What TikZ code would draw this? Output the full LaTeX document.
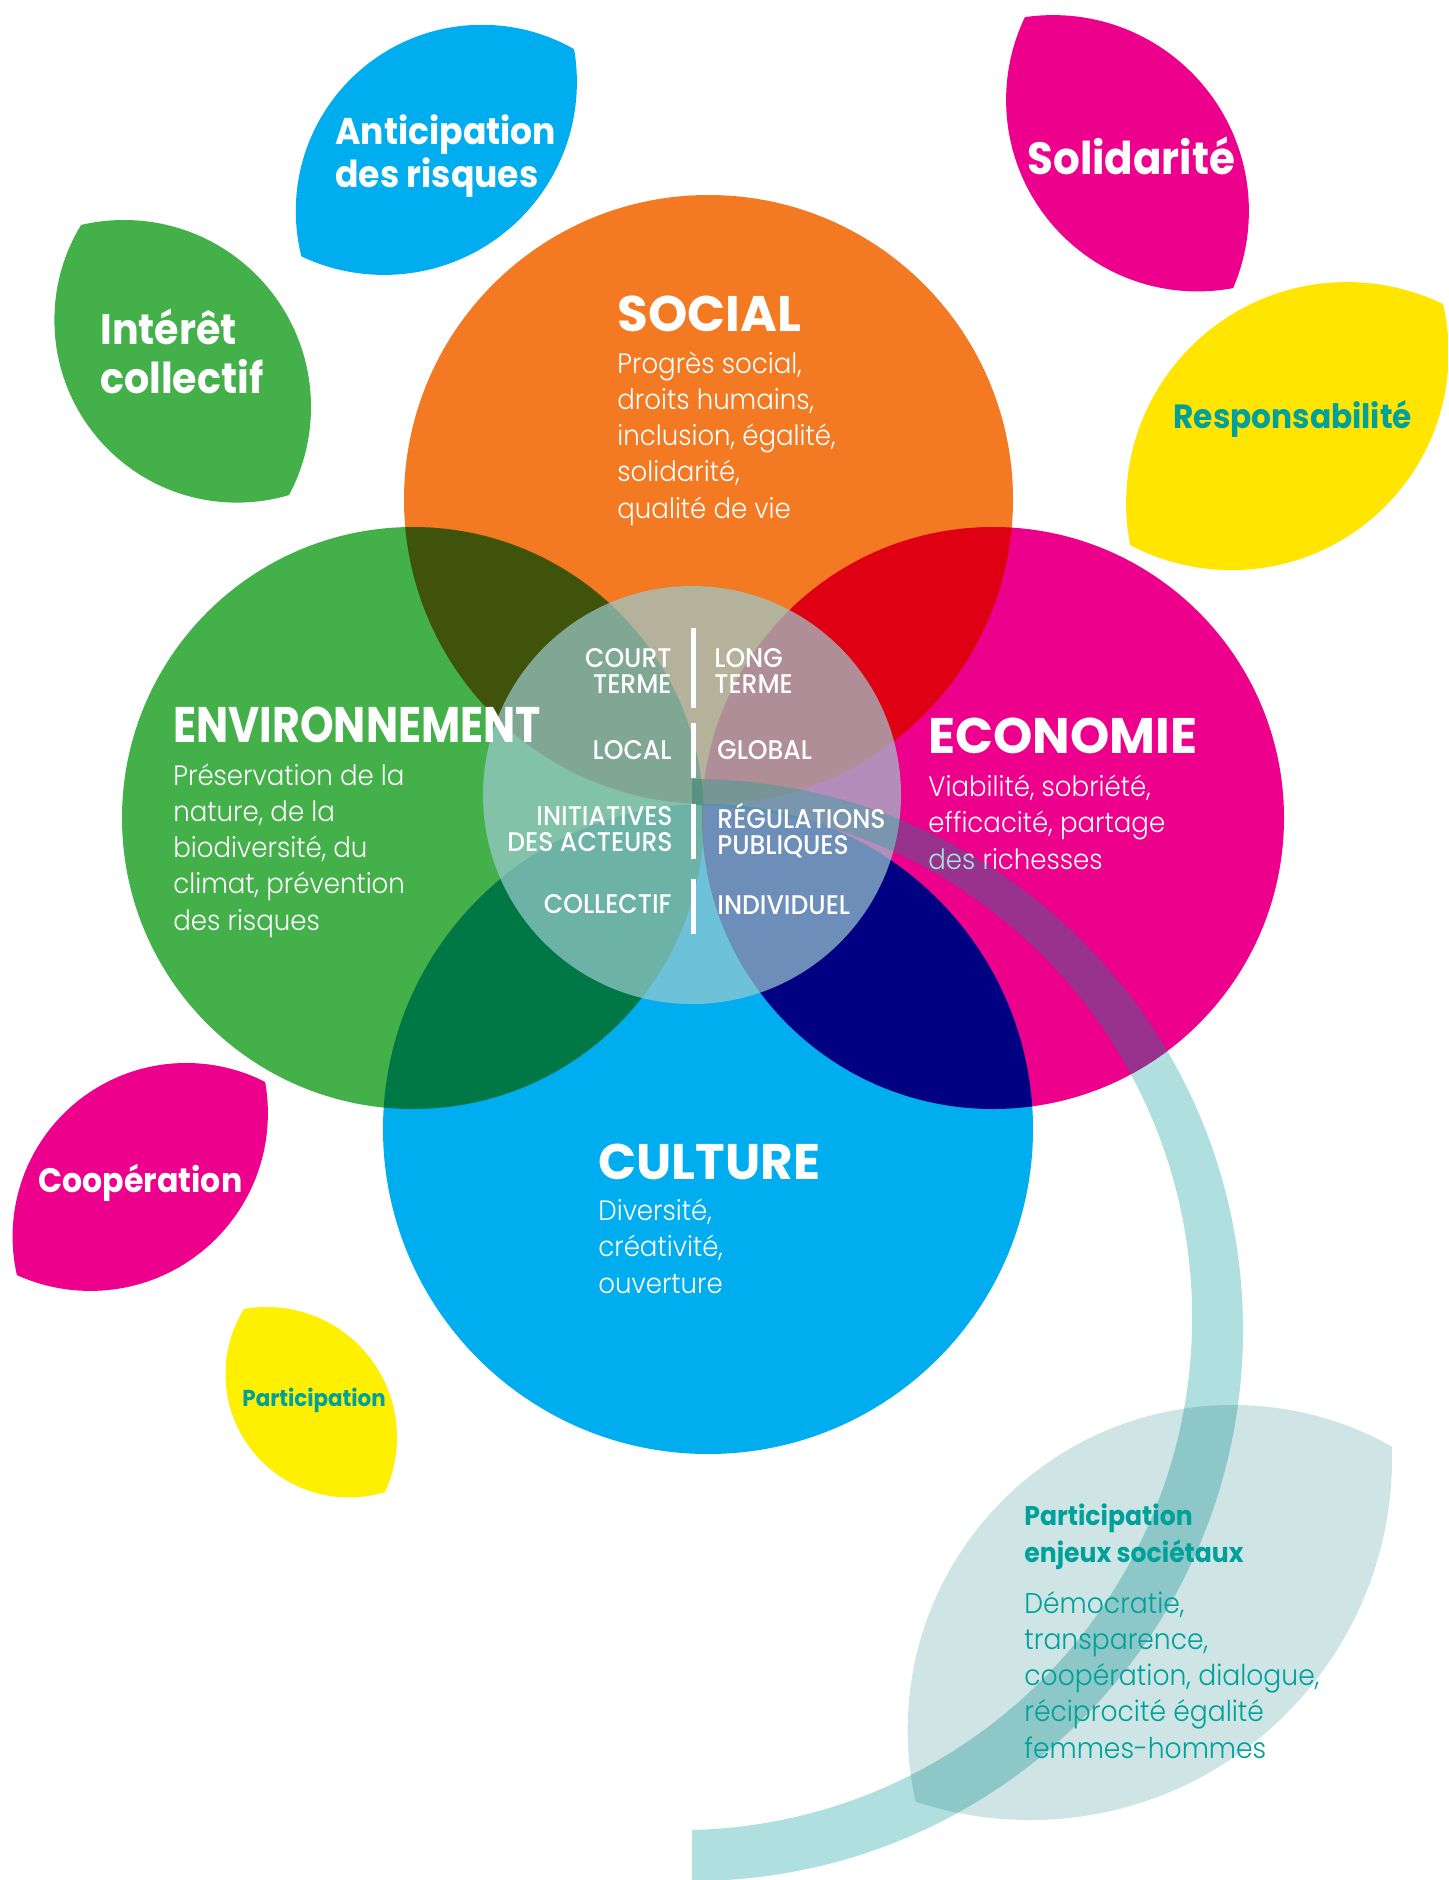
\documentclass[tikz,border=0pt]{standalone}
\usepackage{fontspec}
\setmainfont{Poppins}
\newfontfamily\headfont{Poppins}
\newfontfamily\headnarrow{Poppins}[FakeStretch=0.855]
\newfontfamily\leaffont{Poppins}[FakeStretch=0.93]
\IfFontExistsTF{Poppins Light}
  {\newfontfamily\bodyfont{Poppins Light}[FakeStretch=0.93]}
  {\newfontfamily\bodyfont{Poppins}[FakeStretch=0.93]}
\IfFontExistsTF{Poppins Medium}
  {\newfontfamily\labelfont{Poppins Medium}[FakeStretch=0.93]}
  {\newfontfamily\labelfont{Poppins}[FakeStretch=0.93]}

\definecolor{socialorange}{RGB}{243,121,35}
\definecolor{envgreen}{RGB}{67,176,74}
\definecolor{ecomagenta}{RGB}{236,0,140}
\definecolor{cultureblue}{RGB}{0,174,239}
\definecolor{leafyellow}{RGB}{255,229,0}
\definecolor{lemon}{RGB}{255,239,0}
\definecolor{tealtext}{RGB}{0,161,154}
\definecolor{hubgrey}{RGB}{156,203,208}
\definecolor{stemteal}{RGB}{176,223,223}
\definecolor{stemlift}{RGB}{120,250,220}
\definecolor{paleleaf}{RGB}{207,228,228}

% lens shaped leaf = two overlapping discs
\newcommand{\leafshape}[5]{%
  \begin{scope}
    \clip #2 circle[radius=#3];
    \fill[#1] #4 circle[radius=#5];
  \end{scope}}
% outline of the stem band
\newcommand{\stempath}{(692,779) arc[start angle=90, end angle=-90, radius=275.5pt]
    -- (692,1830) arc[start angle=-88.6, end angle=88.6, radius=256.35pt] -- cycle}

\begin{document}
\begin{tikzpicture}[x=0.5pt, y=-0.5pt,
    circletitle/.style={text=white, font=\headfont\bfseries\fontsize{25}{30}\selectfont,
      inner sep=0pt, anchor=base west},
    circletext/.style={text=white, font=\bodyfont\fontsize{14}{18.1}\selectfont,
      inner sep=0pt, anchor=base west, align=left},
    leaftext/.style 2 args={font=\leaffont\bfseries\fontsize{#1}{#2}\selectfont,
      inner sep=0pt, anchor=base west, align=left},
    hubleft/.style={text=white, font=\labelfont\fontsize{13.5}{13}\selectfont,
      inner sep=0pt, anchor=base east, align=right},
    hubright/.style={text=white, font=\labelfont\fontsize{13.5}{13}\selectfont,
      inner sep=0pt, anchor=base west, align=left}]
  \useasboundingbox (0,0) rectangle (1449,1880);
  \clip (0,0) rectangle (1449,1880);
  \fill[white] (0,0) rectangle (1449,1880);

  % leaves
  \leafshape{cultureblue}{(384,82)}{96.45pt}{(482,211)}{93.1pt}
  \leafshape{envgreen}{(124,407)}{93.5pt}{(237,320)}{91.3pt}
  \leafshape{ecomagenta}{(1053,211)}{97.95pt}{(1197.5,100)}{95.7pt}
  \leafshape{leafyellow}{(1231.5,353)}{108.55pt}{(1347,503)}{110.45pt}
  \leafshape{ecomagenta}{(90.3,1113.3)}{88.8pt}{(186.2,1236.6)}{86.8pt}
  \leafshape{lemon}{(266.7,1437.3)}{65.15pt}{(348.9,1374)}{61.7pt}
  \leafshape{paleleaf}{(1030,1458)}{181pt}{(1232.7,1730)}{162.5pt}

  % the four circles
  \begin{scope}[blend mode=multiply]
    \fill[socialorange] (708.5,499.5) circle[radius=152.25pt];
    \fill[envgreen] (413,818) circle[radius=145.5pt];
    \fill[ecomagenta] (993,818) circle[radius=145.5pt];
    \fill[cultureblue] (708,1129) circle[radius=162.5pt];
  \end{scope}
  \fill[hubgrey, fill opacity=0.7] (692,795) circle[radius=104.5pt];

  \node[circletitle] (social) at (617,331) {SOCIAL};
  \node[circletext] (socialtxt) at (617,518) {Progrès social,\\droits humains,\\inclusion, égalité,\\solidarité,\\qualité de vie};
  \node[circletitle, font=\headnarrow\bfseries\fontsize{25}{30}\selectfont] (envir) at (173,742) {ENVIRONNEMENT};
  \node[circletext] (envirtxt) at (173,930) {Préservation de la\\nature, de la\\biodiversité, du\\climat, prévention\\des risques};
  \node[circletitle] (econ) at (928,753) {ECONOMIE};
  \node[circletext] (econtxt) at (928,869) {Viabilité, sobriété,\\efficacité, partage\\des richesses};
  \node[circletitle] (culture) at (598,1179) {CULTURE};
  \node[circletext] (culturetxt) at (598,1293) {Diversité,\\créativité,\\ouverture};

  % stem
  \fill[stemteal, blend mode=multiply] \stempath;
  \begin{scope}
    \clip (993,818) circle[radius=145.5pt];
    \fill[stemlift, fill opacity=0.2] \stempath;
  \end{scope}

  % centre
  \foreach \ya/\yb in {628/708, 723/778, 804/859, 879/934}
    \fill[white] (690.5,\ya) rectangle (695.5,\yb);
  \node[hubleft] (court) at (672,693) {COURT\\TERME};
  \node[hubleft] (local) at (672,759) {LOCAL};
  \node[hubleft] (initiatives) at (673,851) {INITIATIVES\\DES ACTEURS};
  \node[hubleft] (collectif) at (672,913) {COLLECTIF};
  \node[hubright] (long) at (714,693) {LONG\\TERME};
  \node[hubright] (global) at (717,759) {GLOBAL};
  \node[hubright] (regulations) at (717,854) {RÉGULATIONS\\PUBLIQUES};
  \node[hubright] (individuel) at (717,914) {INDIVIDUEL};

  % leaf labels
  \node[leaftext={18.6}{21.5}, text=white] (anticipation) at (335,187) {Anticipation\\des risques};
  \node[leaftext={21.3}{24.3}, text=white] (interet) at (100,393) {Intérêt\\collectif};
  \node[leaftext={22.6}{25}, text=white] (solidarite) at (1027,174) {Solidarité};
  \node[leaftext={16.8}{20}, text=tealtext] (responsabilite) at (1173,428) {Responsabilité};
  \node[leaftext={17}{20}, text=white] (cooperation) at (38,1192) {Coopération};
  \node[leaftext={11.5}{14}, text=tealtext] (participation) at (242,1406) {Participation};
  \node[leaftext={13.5}{18.5}, text=tealtext] (enjeux) at (1024,1562) {Participation\\enjeux sociétaux};
  \node[circletext, text=tealtext, font=\bodyfont\fontsize{14.3}{18.1}\selectfont] (enjeuxtxt) at (1024,1758)
    {Démocratie,\\transparence,\\coopération, dialogue,\\réciprocité égalité\\femmes-hommes};
\end{tikzpicture}
\end{document}
